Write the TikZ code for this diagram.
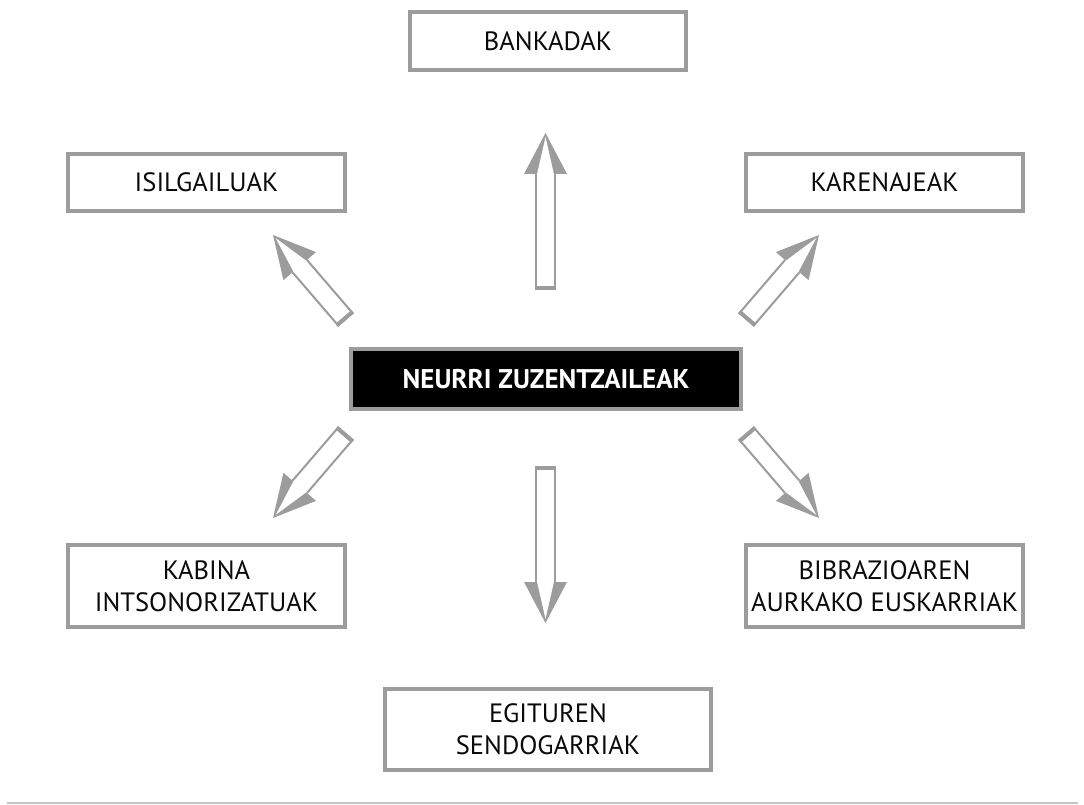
\documentclass[tikz,border=0pt]{standalone}
\usepackage{fontspec}
\setmainfont{PT Sans}
\definecolor{framegray}{HTML}{9C9C9C}
\definecolor{rulegray}{HTML}{C4C4C4}
\definecolor{inkblack}{HTML}{0A0A0A}
\begin{document}
\begin{tikzpicture}[x=1pt,y=-1pt,
  box/.style={draw=framegray, line width=4pt, fill=white, text=inkblack,
    align=center, inner sep=0pt, font=\fontsize{26.5}{32}\selectfont},
  hubbox/.style={draw=framegray, line width=4pt, fill=black, text=white,
    align=center, inner sep=0pt, font=\fontsize{27}{32}\selectfont\bfseries},
  pics/hollowarrow/.style={code={
    % solid head
    \fill[framegray] (#1-41,-21.5) -- (#1,0) -- (#1-41,21.5) -- cycle;
    % hollow shaft
    \draw[framegray, line width=2pt, fill=white]
      (#1-41,-9.5) -- (1,-9.5) -- (1,9.5) -- (#1-41,9.5);
    % shaft interior running into the head
    \fill[white] (#1-41.5,-8.5) -- (#1-4,0) -- (#1-41.5,8.5) -- cycle;
    % heavier tail edge
    \draw[framegray, line width=4pt] (2,-10.5) -- (2,10.5);
  }}]
\useasboundingbox (0,0) rectangle (1084,805);

% boxes
\node[hubbox, minimum width=390pt, minimum height=60pt] (hub) at (546,379) {NEURRI ZUZENTZAILEAK};
\node[box, minimum width=276pt, minimum height=58pt] (bank) at (548,41) {BANKADAK};
\node[box, minimum width=277pt, minimum height=57pt] (isil) at (206.5,182.5) {ISILGAILUAK};
\node[box, minimum width=277pt, minimum height=57pt] (karen) at (884.5,182.5) {KARENAJEAK};
\node[box, minimum width=277pt, minimum height=82pt] (kabina) at (206.5,586) {KABINA\\INTSONORIZATUAK};
\node[box, minimum width=277pt, minimum height=82pt] (bibra) at (884.5,586) {BIBRAZIOAREN\\AURKAKO EUSKARRIAK};
\node[box, minimum width=326pt, minimum height=81pt] (egit) at (548,729.5) {EGITUREN\\SENDOGARRIAK};

% arrow tails around the hub
\coordinate (aUp) at (545.5,290);
\coordinate (aDown) at (545.5,466);
\coordinate (aUL) at (346,320);
\coordinate (aUR) at (746,320);
\coordinate (aDL) at (346,433);
\coordinate (aDR) at (746,433);

\pic[rotate=90] at (aUp) {hollowarrow=157};
\pic[rotate=-90] at (aDown) {hollowarrow=157};
\pic[rotate=130.65] at (aUL) {hollowarrow=112};
\pic[rotate=49.35] at (aUR) {hollowarrow=112};
\pic[rotate=-130.65] at (aDL) {hollowarrow=112};
\pic[rotate=-49.35] at (aDR) {hollowarrow=112};

% bottom rule
\coordinate (ruleL) at (7,803);
\coordinate (ruleR) at (1078,803);
\draw[rulegray, line width=1.5pt] (ruleL) -- (ruleR);
\end{tikzpicture}
\end{document}
